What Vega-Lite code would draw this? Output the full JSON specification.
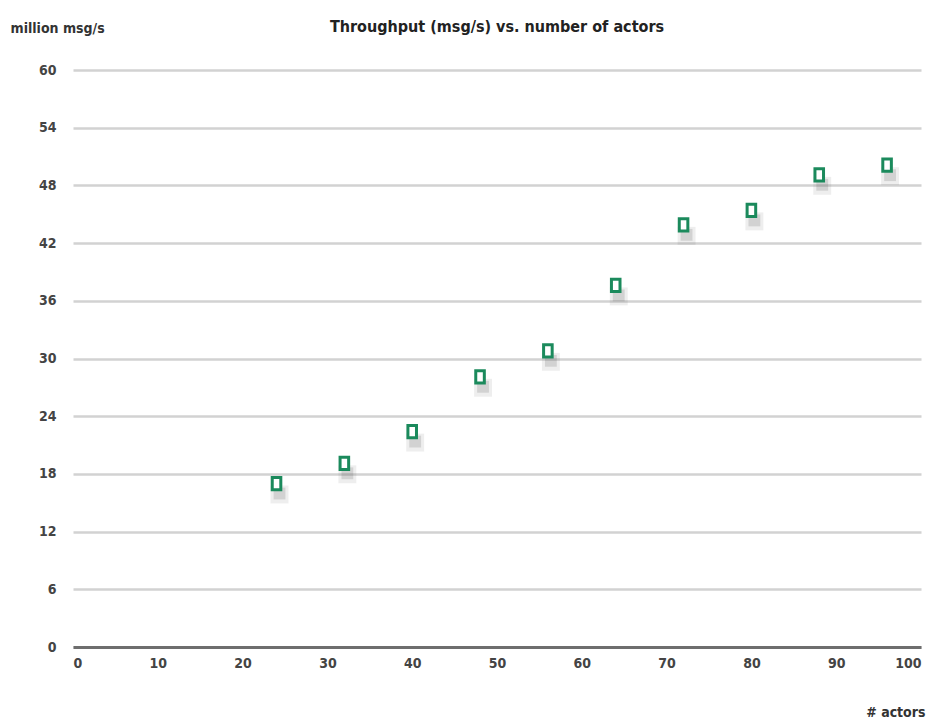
{
  "$schema": "https://vega.github.io/schema/vega-lite/v6.json",
  "autosize": "none",
  "width": 848,
  "height": 577,
  "padding": {"left": 73, "top": 70, "right": 13, "bottom": 78},
  "background": "white",
  "title": {
    "text": "Throughput (msg/s) vs. number of actors",
    "font": "DejaVu Sans Condensed, Liberation Sans, sans-serif",
    "fontSize": 16,
    "fontWeight": "bold",
    "color": "#222",
    "anchor": "middle",
    "frame": "group",
    "offset": 0,
    "dy": 14
  },
  "config": {
    "view": {"stroke": null},
    "axis": {
      "labelFont": "DejaVu Sans Condensed, Liberation Sans, sans-serif",
      "titleFont": "DejaVu Sans Condensed, Liberation Sans, sans-serif",
      "labelFontSize": 14,
      "labelFontWeight": "bold",
      "labelColor": "#444",
      "titleFontSize": 14,
      "titleFontWeight": "bold",
      "titleColor": "#333"
    }
  },
  "data": {
    "values": [
      {"actors": 24, "throughput": 17.0},
      {"actors": 32, "throughput": 19.1},
      {"actors": 40, "throughput": 22.4},
      {"actors": 48, "throughput": 28.1},
      {"actors": 56, "throughput": 30.8},
      {"actors": 64, "throughput": 37.6},
      {"actors": 72, "throughput": 43.9},
      {"actors": 80, "throughput": 45.4},
      {"actors": 88, "throughput": 49.1},
      {"actors": 96, "throughput": 50.1}
    ]
  },
  "encoding": {
    "x": {
      "field": "actors",
      "type": "quantitative",
      "scale": {"domain": [0, 100], "nice": false},
      "axis": {
        "values": [0, 10, 20, 30, 40, 50, 60, 70, 80, 90, 100],
        "grid": false,
        "domain": true,
        "domainColor": "#6e6e6e",
        "domainWidth": 3,
        "ticks": false,
        "labelPadding": 9,
        "title": "# actors",
        "titleX": 852,
        "titleY": 65,
        "titleAlign": "right",
        "titleAnchor": "end",
        "titleBaseline": "middle"
      }
    },
    "y": {
      "field": "throughput",
      "type": "quantitative",
      "scale": {"domain": [0, 60], "nice": false},
      "axis": {
        "values": [0, 6, 12, 18, 24, 30, 36, 42, 48, 54, 60],
        "grid": true,
        "gridColor": "#d2d2d2",
        "gridWidth": 2.5,
        "domain": false,
        "ticks": false,
        "labelPadding": 17,
        "title": "million msg/s",
        "titleAngle": 0,
        "titleX": -63,
        "titleY": -42,
        "titleAlign": "left",
        "titleBaseline": "middle"
      }
    }
  },
  "layer": [
    {
      "mark": {"type": "point", "shape": "square", "filled": true, "color": "#555", "opacity": 0.1, "size": 320, "yOffset": 11, "xOffset": 3}
    },
    {
      "mark": {"type": "point", "shape": "square", "filled": true, "color": "#444", "opacity": 0.16, "size": 140, "yOffset": 10, "xOffset": 3}
    },
    {
      "mark": {"type": "point", "shape": "M-0.7,-1L0.7,-1L0.7,1L-0.7,1Z", "filled": false, "fill": "white", "stroke": "#1b8a5c", "strokeWidth": 3, "size": 150, "opacity": 1}
    }
  ]
}
